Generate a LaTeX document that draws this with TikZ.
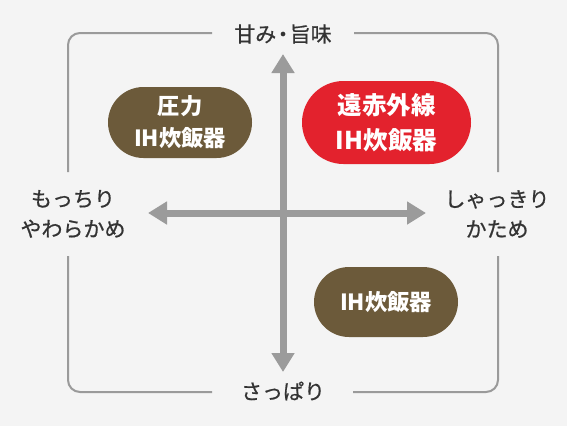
\documentclass[tikz,border=0pt]{standalone}
\usepackage{fontspec}
\setmainfont{Noto Sans CJK JP}
\newfontfamily\jpmed{Noto Sans CJK JP}[FakeBold=0.7]
\usetikzlibrary{arrows.meta,shapes.misc}
\definecolor{bgc}{HTML}{F4F4F4}
\definecolor{framec}{HTML}{9A9A9A}
\definecolor{arrowc}{HTML}{9B9B9B}
\definecolor{txtc}{HTML}{333333}
\definecolor{brownc}{HTML}{6C5A3A}
\definecolor{redc}{HTML}{E3222D}
\tikzset{
  axislabel/.style={text=txtc, font=\jpmed\fontsize{21}{30}\selectfont, align=center, inner sep=0pt},
  pill/.style={rounded rectangle, text=white, align=center, inner sep=0pt},
  brownpill/.style={pill, fill=brownc, font=\fontsize{22.3}{32}\selectfont\bfseries},
  redpill/.style={pill, fill=redc, font=\fontsize{24.5}{35}\selectfont\bfseries},
  framel/.style={draw=framec, line width=2pt, rounded corners=12pt},
  axisarrow/.style={draw=arrowc, line width=7pt, -{Triangle[width=22pt,length=19pt]}},
}
\begin{document}
\begin{tikzpicture}[x=1pt,y=-1pt]
\fill[bgc] (0,0) rectangle (567,426);
\useasboundingbox (0,0) rectangle (567,426);
% labels
\node[axislabel] (top) at (283,34) {甘み\hspace{-0.18em}・\hspace{-0.18em}旨味};
\node[axislabel] (bot) at (283,391) {さっぱり};
\node[axislabel] (left) at (73,214) {もっちり\\やわらかめ};
\node[axislabel] (right) at (497,214) {しゃっきり\\かため};
% frame
\coordinate (tl1) at (212,33);
\coordinate (tl2) at (68,172);
\coordinate (tr1) at (354,33);
\coordinate (tr2) at (498,172);
\coordinate (bl1) at (68,256);
\coordinate (bl2) at (212,392);
\coordinate (br1) at (498,256);
\coordinate (br2) at (353,392);
\draw[framel] (tl1) -| (tl2);
\draw[framel] (tr1) -| (tr2);
\draw[framel] (bl1) |- (bl2);
\draw[framel] (br1) |- (br2);
% axes
\coordinate (c) at (283,213);
\coordinate (vt) at (283,54);
\coordinate (vb) at (283,372);
\coordinate (hl) at (148,213);
\coordinate (hr) at (426,213);
\draw[axisarrow] (c) -- (vt);
\draw[axisarrow] (c) -- (vb);
\draw[axisarrow] (c) -- (hl);
\draw[axisarrow] (c) -- (hr);
% pills
\node[brownpill, minimum width=144pt, minimum height=71pt] (pressure) at (180,122.5) {圧力\\IH炊飯器};
\node[redpill, minimum width=169pt, minimum height=83pt] (far) at (386.5,122.5) {遠赤外線\\IH炊飯器};
\node[brownpill, minimum width=144pt, minimum height=70pt] (ih) at (386,302) {IH炊飯器};
\end{tikzpicture}
\end{document}
